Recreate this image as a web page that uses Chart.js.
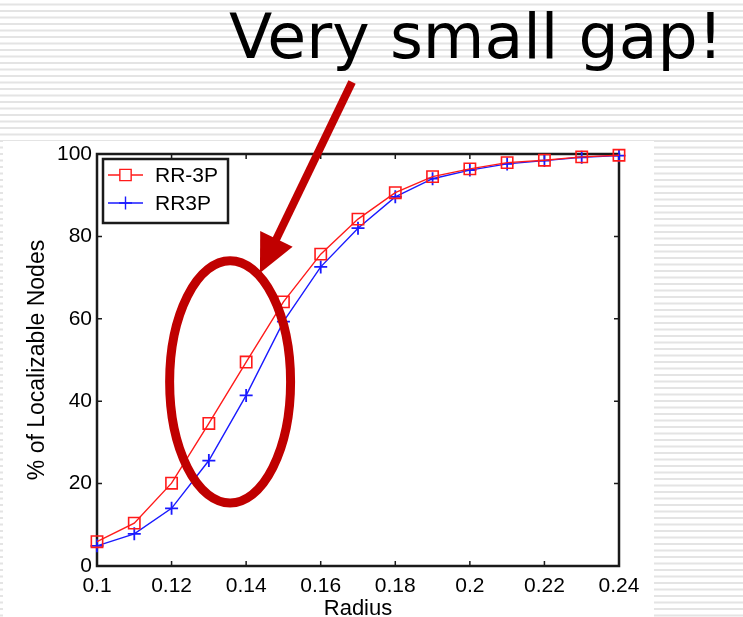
<!DOCTYPE html>
<html>
<head>
<meta charset="utf-8">
<script src="https://cdn.jsdelivr.net/npm/chart.js@4.4.0/dist/chart.umd.min.js"></script>
<style>
  html, body { margin: 0; padding: 0; background: #fff; }
  #wrap { position: relative; width: 743px; height: 617px; }
</style>
</head>
<body>
<div id="wrap"><canvas id="chart" width="743" height="617"></canvas></div>
<script>
// values
const radius = [0.10, 0.11, 0.12, 0.13, 0.14, 0.15, 0.16, 0.17, 0.18, 0.19, 0.20, 0.21, 0.22, 0.23, 0.24];
const rrDash3p = [5.9, 10.4, 20.1, 34.6, 49.5, 64.1, 75.7, 84.2, 90.6, 94.5, 96.4, 97.9, 98.5, 99.3, 99.7];
const rr3p = [4.9, 7.8, 14.0, 25.6, 41.4, 59.3, 72.6, 82.0, 89.6, 94.0, 96.1, 97.6, 98.4, 99.2, 99.6];
const seriesNames = ['RR-3P', 'RR3P'];
const xTicks = [0.1, 0.12, 0.14, 0.16, 0.18, 0.2, 0.22, 0.24];
const yTicks = [0, 20, 40, 60, 80, 100];

const slideTitle = 'Very small gap!';
const xTitle = 'Radius';
const yTitle = '% of Localizable Nodes';

// callout, in data units
const gapOval = { x: 0.1357, y: 44.7, rx: 0.01622, ry: 29.4 };
const arrowFrom = { x: 0.1684, y: 117.5 };
const arrowTo = { x: 0.1437, y: 71.1 };

const RED = '#ff1a1a';
const BLUE = '#1a1aff';
const DARK_RED = '#c00000';
const AXIS_FONT = "'Liberation Sans', Arial, sans-serif";

const slidePlugin = {
  id: 'slide',
  beforeDraw(chart) {
    const ctx = chart.ctx;
    const w = chart.width, h = chart.height;
    ctx.save();
    ctx.fillStyle = '#fff';
    ctx.fillRect(0, 0, w, h);
    ctx.fillStyle = '#e4e4e4';
    for (let y = 3.5; y < h; y += 6.5) ctx.fillRect(0, y, w, 2);
    // pasted figure
    ctx.fillStyle = '#fff';
    ctx.fillRect(3, 141, 651, h - 141);
    ctx.restore();
  },
  beforeDatasetsDraw(chart) {
    const ctx = chart.ctx;
    const a = chart.chartArea;
    const xs = chart.scales.x, ys = chart.scales.y;
    ctx.save();
    ctx.strokeStyle = '#1a1a1a';
    ctx.lineWidth = 1.5;
    ctx.beginPath();
    xs.ticks.forEach(t => {
      const px = xs.getPixelForValue(t.value);
      ctx.moveTo(px, a.bottom); ctx.lineTo(px, a.bottom - 5);
      ctx.moveTo(px, a.top); ctx.lineTo(px, a.top + 5);
    });
    ys.ticks.forEach(t => {
      const py = ys.getPixelForValue(t.value);
      ctx.moveTo(a.left, py); ctx.lineTo(a.left + 5, py);
      ctx.moveTo(a.right, py); ctx.lineTo(a.right - 5, py);
    });
    ctx.stroke();
    ctx.lineWidth = 2.5;
    ctx.strokeRect(a.left, a.top, a.right - a.left, a.bottom - a.top);
    ctx.restore();
  },
  afterDatasetsDraw(chart) {
    // legend box in the upper left of the axes
    const ctx = chart.ctx;
    const a = chart.chartArea;
    const bx = a.left + 6, by = a.top + 5, bw = 125, bh = 64;
    ctx.save();
    ctx.fillStyle = '#fff';
    ctx.fillRect(bx, by, bw, bh);
    ctx.strokeStyle = '#1a1a1a';
    ctx.lineWidth = 2.5;
    ctx.strokeRect(bx, by, bw, bh);
    ctx.font = '21px ' + AXIS_FONT;
    ctx.textBaseline = 'middle';
    chart.data.datasets.forEach((ds, i) => {
      const cy = by + 16 + i * 28;
      ctx.strokeStyle = ds.borderColor;
      ctx.lineWidth = ds.borderWidth;
      ctx.beginPath();
      ctx.moveTo(bx + 5, cy); ctx.lineTo(bx + 40, cy);
      ctx.stroke();
      Chart.helpers.drawPoint(ctx, {
        pointStyle: ds.pointStyle, radius: ds.pointRadius, rotation: 0,
        borderWidth: ds.pointBorderWidth
      }, bx + 22.5, cy);
      ctx.fillStyle = '#000';
      ctx.fillText(ds.label, bx + 52, cy + 1);
    });
    ctx.restore();
  },
  afterDraw(chart) {
    const ctx = chart.ctx;
    const a = chart.chartArea;
    const xs = chart.scales.x, ys = chart.scales.y;
    ctx.save();
    // axis titles
    ctx.fillStyle = '#000';
    ctx.font = '22px ' + AXIS_FONT;
    ctx.textAlign = 'center';
    ctx.textBaseline = 'alphabetic';
    ctx.fillText(xTitle, (a.left + a.right) / 2, 615);
    ctx.save();
    ctx.translate(44, (a.top + a.bottom) / 2);
    ctx.rotate(-Math.PI / 2);
    ctx.font = '23px ' + AXIS_FONT;
    ctx.fillText(yTitle, 0, 0);
    ctx.restore();

    // slide heading
    ctx.font = '62px "DejaVu Sans", sans-serif';
    ctx.textAlign = 'left';
    const tw = ctx.measureText(slideTitle).width;
    ctx.save();
    ctx.translate(229, 58);
    ctx.scale(494 / tw, 1);
    ctx.fillText(slideTitle, 0, 0);
    ctx.restore();

    // oval around the gap
    ctx.strokeStyle = DARK_RED;
    ctx.fillStyle = DARK_RED;
    ctx.lineWidth = 9;
    const cx = xs.getPixelForValue(gapOval.x), cy = ys.getPixelForValue(gapOval.y);
    const rx = xs.getPixelForValue(gapOval.x + gapOval.rx) - cx;
    const ry = cy - ys.getPixelForValue(gapOval.y + gapOval.ry);
    ctx.beginPath();
    ctx.ellipse(cx, cy, rx, ry, 0, 0, Math.PI * 2);
    ctx.stroke();

    // arrow
    const x0 = xs.getPixelForValue(arrowFrom.x), y0 = ys.getPixelForValue(arrowFrom.y);
    const x1 = xs.getPixelForValue(arrowTo.x), y1 = ys.getPixelForValue(arrowTo.y);
    const len = Math.hypot(x1 - x0, y1 - y0);
    const ux = (x1 - x0) / len, uy = (y1 - y0) / len;
    const headL = 38, headW = 18;
    const bxp = x1 - ux * headL, byp = y1 - uy * headL;
    ctx.lineWidth = 8;
    ctx.beginPath();
    ctx.moveTo(x0, y0);
    ctx.lineTo(bxp + ux * 2, byp + uy * 2);
    ctx.stroke();
    ctx.beginPath();
    ctx.moveTo(x1, y1);
    ctx.lineTo(bxp - uy * headW, byp + ux * headW);
    ctx.lineTo(bxp + uy * headW, byp - ux * headW);
    ctx.closePath();
    ctx.fill();
    ctx.restore();
  }
};

const ctx = document.getElementById('chart').getContext('2d');
new Chart(ctx, {
  type: 'line',
  data: {
    datasets: [
      {
        label: seriesNames[0],
        data: radius.map((r, i) => ({ x: r, y: rrDash3p[i] })),
        borderColor: RED,
        borderWidth: 1.4,
        pointStyle: 'rect',
        pointRadius: 8,
        pointBorderWidth: 1.6,
        pointBorderColor: RED,
        pointBackgroundColor: 'transparent',
        tension: 0,
        clip: false
      },
      {
        label: seriesNames[1],
        data: radius.map((r, i) => ({ x: r, y: rr3p[i] })),
        borderColor: BLUE,
        borderWidth: 1.4,
        pointStyle: 'cross',
        pointRadius: 6.5,
        pointBorderWidth: 1.8,
        pointBorderColor: BLUE,
        pointBackgroundColor: BLUE,
        tension: 0,
        clip: false
      }
    ]
  },
  options: {
    responsive: false,
    animation: false,
    devicePixelRatio: 1,
    layout: { padding: { top: 154, right: 124, bottom: 0, left: 0 } },
    plugins: {
      legend: { display: false },
      tooltip: { enabled: false },
      title: { display: false }
    },
    scales: {
      x: {
        type: 'linear',
        min: 0.1,
        max: 0.24,
        afterBuildTicks: s => { s.ticks = xTicks.map(v => ({ value: v })); },
        afterFit: s => { s.height = 51; },
        grid: { display: false, drawTicks: false },
        border: { display: false },
        ticks: {
          color: '#000',
          padding: 8,
          maxRotation: 0,
          autoSkip: false,
          font: { family: AXIS_FONT, size: 21 },
          callback: v => String(+v.toFixed(2))
        }
      },
      y: {
        min: 0,
        max: 100,
        afterBuildTicks: s => { s.ticks = yTicks.map(v => ({ value: v })); },
        afterFit: s => { s.width = 97; },
        grid: { display: false, drawTicks: false },
        border: { display: false },
        ticks: {
          color: '#000',
          padding: 5,
          autoSkip: false,
          font: { family: AXIS_FONT, size: 21 }
        }
      }
    }
  },
  plugins: [slidePlugin]
});
</script>
</body>
</html>
